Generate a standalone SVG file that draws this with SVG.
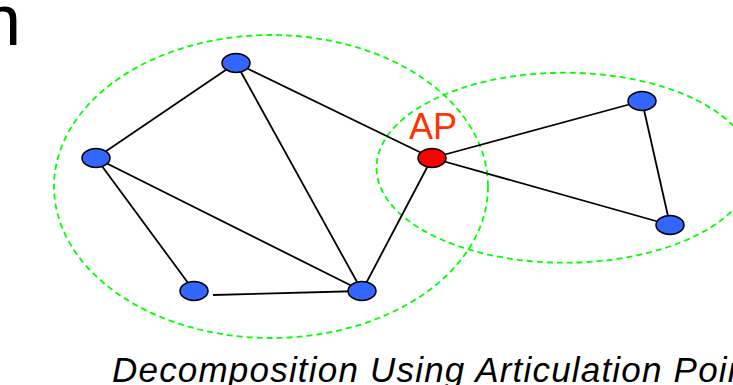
<svg xmlns="http://www.w3.org/2000/svg" width="733" height="385" viewBox="0 0 733 385">
<style>
.group{fill:none;stroke:#00ff00;stroke-width:1.8;stroke-dasharray:6 4}
.edge{stroke:#000;stroke-width:1.8;fill:none}
.node ellipse{fill:#3366ff;stroke:#000;stroke-width:1.5}
.ap ellipse{fill:#ff0000;stroke:#000;stroke-width:1.5}
text{font-family:"Liberation Sans",Arial,sans-serif}
</style>
<rect width="733" height="385" fill="#fff"/>
<text x="21" y="45" font-size="72" text-anchor="end" fill="#000">n</text>
<g id="groups">
<ellipse class="group" cx="271" cy="186.5" rx="217" ry="151.5"/>
<ellipse class="group" cx="564.5" cy="167.7" rx="188" ry="95"/>
</g>
<g id="connectors">
<line class="edge" x1="236" y1="63" x2="96" y2="158"/>
<line class="edge" x1="236" y1="63" x2="432" y2="158"/>
<line class="edge" x1="236" y1="63" x2="362" y2="291"/>
<line class="edge" x1="96" y1="158" x2="362" y2="291"/>
<line class="edge" x1="96" y1="158" x2="194" y2="291"/>
<line class="edge" x1="213" y1="295" x2="362" y2="291"/>
<line class="edge" x1="362" y1="291" x2="432" y2="158"/>
<line class="edge" x1="432" y1="158" x2="642" y2="101"/>
<line class="edge" x1="432" y1="158" x2="670" y2="225"/>
<line class="edge" x1="642" y1="101" x2="670" y2="225"/>
</g>
<g id="nodeA" class="node"><ellipse cx="236" cy="63" rx="14" ry="9.5"/></g>
<g id="nodeB" class="node"><ellipse cx="96" cy="158" rx="14" ry="9.5"/></g>
<g id="nodeC" class="node"><ellipse cx="194" cy="291" rx="14" ry="9.5"/></g>
<g id="nodeD" class="node"><ellipse cx="362" cy="291" rx="14" ry="9.5"/></g>
<g id="nodeAP" class="ap"><ellipse cx="432" cy="158" rx="14" ry="9.5"/>
<text x="433" y="139" font-size="36" text-anchor="middle" fill="#ff3300">AP</text></g>
<g id="nodeE" class="node"><ellipse cx="642" cy="101" rx="14" ry="9.5"/></g>
<g id="nodeF" class="node"><ellipse cx="670" cy="225" rx="14" ry="9.5"/></g>
<text x="112" y="382" font-size="35" font-style="italic" letter-spacing="1.2" fill="#000">Decomposition Using Articulation Points</text>
</svg>
